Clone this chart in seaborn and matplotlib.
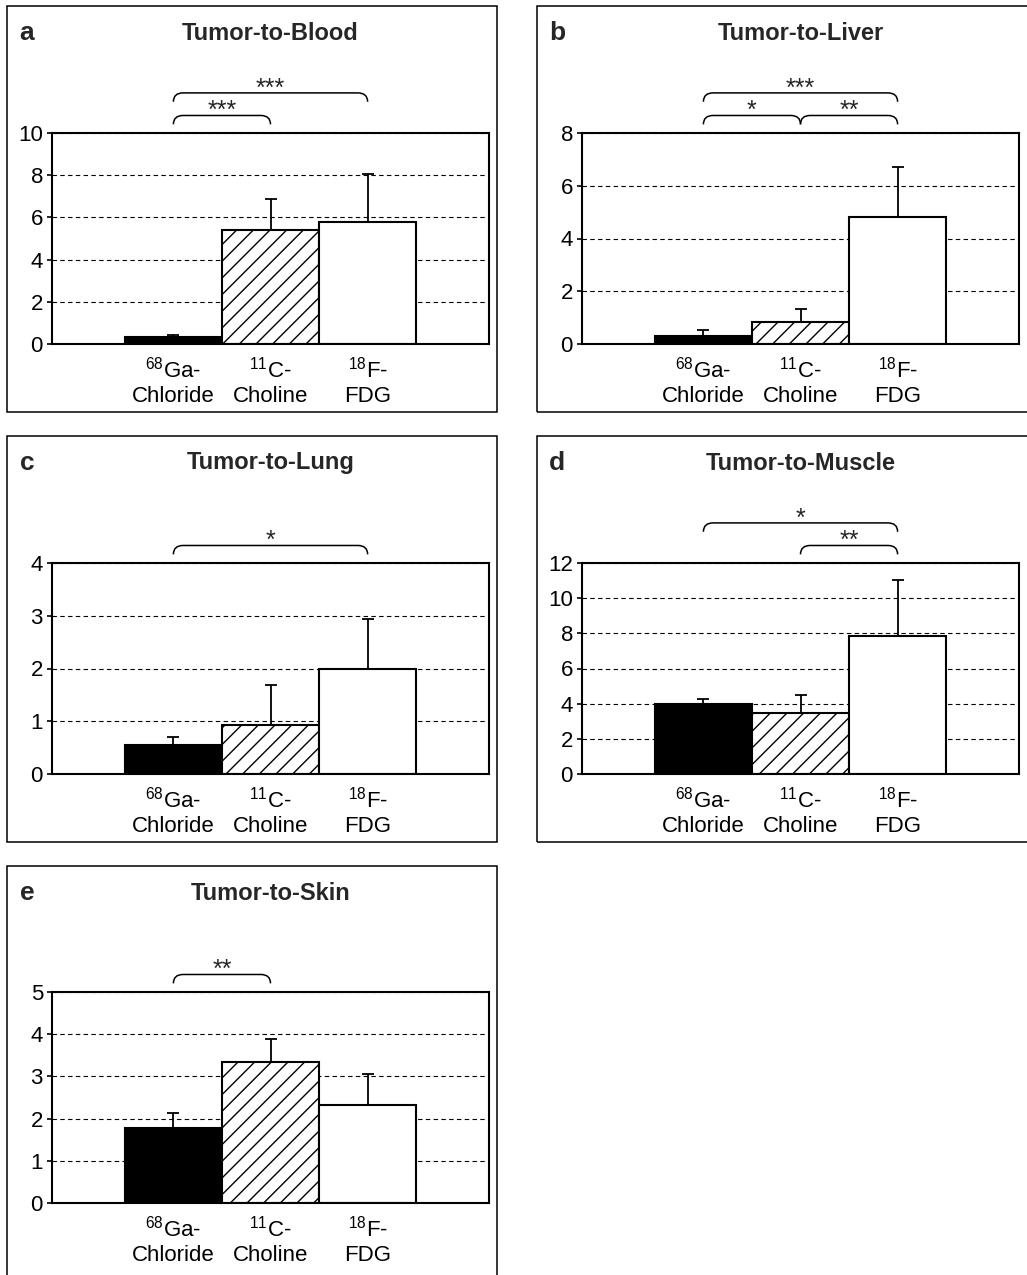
import numpy as np
import pandas as pd
import seaborn as sns
import matplotlib
import matplotlib.pyplot as plt
from matplotlib.path import Path
from matplotlib.patches import PathPatch, Rectangle
import matplotlib.transforms as mtransforms

matplotlib.use('Agg')

sns.set_style('ticks')
plt.rcParams['font.family'] = ['Liberation Sans', 'DejaVu Sans']
plt.rcParams['mathtext.fontset'] = 'custom'
plt.rcParams['mathtext.rm'] = 'Liberation Sans'
plt.rcParams['mathtext.it'] = 'Liberation Sans:italic'
plt.rcParams['mathtext.bf'] = 'Liberation Sans:bold'
plt.rcParams['mathtext.default'] = 'regular'
plt.rcParams['hatch.linewidth'] = 1.0

tracers = ['Ga', 'Choline', 'FDG']
tick_labels = ['$^{68}$Ga-\nChloride', '$^{11}$C-\nCholine', '$^{18}$F-\nFDG']
bar_colors = ['black', 'white', 'white']

blood_mean = [0.35, 5.4, 5.8]
blood_sd = [0.08, 1.45, 2.25]
liver_mean = [0.3, 0.83, 4.81]
liver_sd = [0.23, 0.49, 1.89]
lung_mean = [0.55, 0.93, 2.0]
lung_sd = [0.15, 0.76, 0.94]
muscle_mean = [3.98, 3.47, 7.85]
muscle_sd = [0.29, 1.02, 3.19]
skin_mean = [1.78, 3.34, 2.32]
skin_sd = [0.35, 0.55, 0.74]

# (from, to, stars, level)  level 0 = lower bracket, 1 = upper bracket
blood_sig = [(0, 1, '***', 0), (0, 2, '***', 1)]
liver_sig = [(0, 1, '*', 0), (1, 2, '**', 0), (0, 2, '***', 1)]
lung_sig = [(0, 2, '*', 0)]
muscle_sig = [(1, 2, '**', 0), (0, 2, '*', 1)]
skin_sig = [(0, 1, '**', 0)]

W, H = 1027, 1275

# letter, title, mean, sd, ymax, step, sig, axes box (px: left, top), frame (px: left, top, w, h)
panels = [
    ('a', 'Tumor-to-Blood', blood_mean, blood_sd, 10, 2, blood_sig, (52, 133), (7, 6, 490, 406)),
    ('b', 'Tumor-to-Liver', liver_mean, liver_sd, 8, 2, liver_sig, (582, 133), (537, 6, 500, 406)),
    ('c', 'Tumor-to-Lung', lung_mean, lung_sd, 4, 1, lung_sig, (52, 563), (7, 436, 490, 406)),
    ('d', 'Tumor-to-Muscle', muscle_mean, muscle_sd, 12, 2, muscle_sig, (582, 563), (537, 436, 500, 406)),
    ('e', 'Tumor-to-Skin', skin_mean, skin_sd, 5, 1, skin_sig, (52, 992), (7, 866, 490, 430)),
]
ax_w, ax_h = 437, 211


def bracket(ax, x0, x1, level, label):
    trans = mtransforms.blended_transform_factory(ax.transData, ax.transAxes)
    y_top = 1.083 if level == 0 else 1.19
    drop = 0.042
    r = 0.1
    verts = [(x0, y_top - drop), (x0, y_top), (x0 + r, y_top),
             (x1 - r, y_top), (x1, y_top), (x1, y_top - drop)]
    codes = [Path.MOVETO, Path.CURVE3, Path.CURVE3,
             Path.LINETO, Path.CURVE3, Path.CURVE3]
    ax.add_patch(PathPatch(Path(verts, codes), fill=False, lw=1.1, ec='black',
                           transform=trans, clip_on=False))
    ax.text((x0 + x1) / 2, y_top + 0.02, label, transform=trans, ha='center',
            va='center', fontsize=18)


fig = plt.figure(figsize=(W / 100, H / 100), dpi=100)

for letter, title, mean, sd, ymax, step, sig, (axl, axt), (fl, ft, fw, fh) in panels:
    ax = fig.add_axes([axl / W, 1 - (axt + ax_h) / H, ax_w / W, ax_h / H])
    df = pd.DataFrame({'tracer': tracers, 'value': mean})
    sns.barplot(data=df, x='tracer', y='value', hue='tracer', palette=bar_colors,
                width=1.0, edgecolor='black', linewidth=1.5, errorbar=None,
                legend=False, saturation=1, ax=ax)
    bars = sorted(ax.patches, key=lambda p: p.get_x())
    bars[1].set_hatch('//')
    ax.errorbar(range(3), mean, yerr=[np.zeros(3), sd], fmt='none', ecolor='black',
                elinewidth=1.3, capsize=4, capthick=1.3, zorder=3)

    ax.set_xlim(-1.25, 3.25)
    ax.set_ylim(0, ymax)
    ax.set_yticks(np.arange(0, ymax + 0.1, step))
    ax.set_xticks(range(3))
    ax.set_xticklabels(tick_labels)
    ax.set_xlabel('')
    ax.set_ylabel('')
    ax.yaxis.grid(True, color='black', linestyle=(0, (4, 3)), lw=0.8)
    ax.set_axisbelow(True)
    for s in ax.spines.values():
        s.set_linewidth(1.5)
        s.set_color('black')
    ax.tick_params(axis='y', length=3.5, width=1.2, labelsize=16, pad=3, colors='black')
    ax.tick_params(axis='x', length=0, labelsize=16, pad=9, colors='black')

    for i, j, stars, level in sig:
        bracket(ax, i, j, level, stars)

    fig.text((fl + 20) / W, 1 - (ft + 27) / H, letter, fontsize=19,
             fontweight='bold', ha='center', va='center')
    fig.text((axl + ax_w / 2) / W, 1 - (ft + 27) / H, title, fontsize=17,
             fontweight='bold', ha='center', va='center')
    fig.add_artist(Rectangle((fl / W, 1 - (ft + fh) / H), fw / W, fh / H,
                             transform=fig.transFigure, fill=False, lw=1.1, ec='black'))

fig.savefig('out.png', dpi=100)
